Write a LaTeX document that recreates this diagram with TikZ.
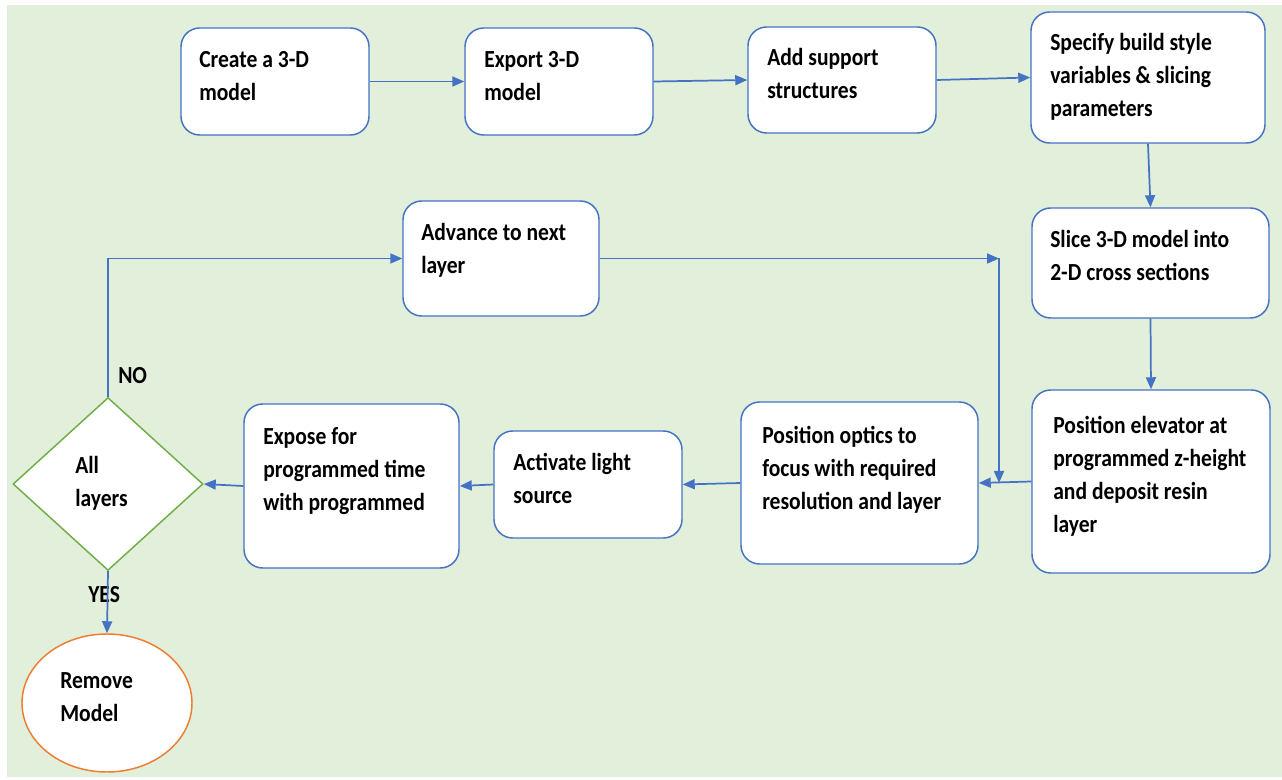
\documentclass[tikz,border=0pt]{standalone}
\usepackage{fontspec}
\setmainfont{Carlito}[FakeStretch=0.88]
\usetikzlibrary{shapes.geometric,arrows.meta,fit}
\definecolor{bg}{HTML}{E2EFDA}
\definecolor{bl}{HTML}{4472C4}
\definecolor{gr}{HTML}{70AD47}
\definecolor{og}{HTML}{ED7D31}
\newcommand{\fs}{\rule{0pt}{17pt}}
\begin{document}
\begin{tikzpicture}[x=0.75pt,y=-0.75pt,
  box/.style={draw=bl, line width=1.1pt, fill=white, rounded corners=14pt, inner sep=0pt},
  txt/.style={anchor=north west, inner sep=0pt, align=left, font=\bfseries\fontsize{18.4}{24.75}\selectfont},
  arr/.style={draw=bl, line width=1.3pt, -{Triangle[length=9pt,width=7.5pt]}}]
\useasboundingbox (0,0) rectangle (1282,780);
\fill[white] (0,0) rectangle (1282,780);
\fill[bg] (7,5) rectangle (1282,777);
% boxes
\node[box, fit={(181,28) (369,135)}] (b1) {};
\node[box, fit={(465,28) (653,135)}] (b2) {};
\node[box, fit={(748,27) (936,133)}] (b3) {};
\node[box, fit={(1031,12) (1265,143)}] (b4) {};
\node[box, fit={(1032,208) (1269,318)}] (b5) {};
\node[box, fit={(1032,390) (1270,573)}] (b6) {};
\node[box, fit={(741,402) (978,564)}] (b7) {};
\node[box, fit={(494,431) (682,538)}] (b8) {};
\node[box, fit={(244,404) (459,568)}] (b9) {};
\node[box, fit={(403,201) (599,316)}] (b10) {};
\node[draw=gr, line width=1.1pt, fill=white, diamond, inner sep=0pt, minimum width=142.5pt, minimum height=129.75pt] (dia) at (108,484) {};
\node[draw=og, line width=1.1pt, fill=white, ellipse, inner sep=0pt, minimum width=127.5pt, minimum height=103.5pt] (ell) at (107,703) {};
% texts
\node[txt] (t1) at (199,44.3) {\fs Create a 3-D\\model};
\node[txt] (t2) at (484,44.3) {\fs Export 3-D\\model};
\node[txt] (t3) at (767,42.3) {\fs Add support\\structures};
\node[txt] (t4) at (1050,27.3) {\fs Specify build style\\variables \& slicing\\parameters};
\node[txt] (t5) at (1050,224.3) {\fs Slice 3-D model into\\2-D cross sections};
\node[txt] (t6) at (1053,410.3) {\fs Position elevator at\\programmed z-height\\and deposit resin\\layer};
\node[txt] (t7) at (762,420.3) {\fs Position optics to\\focus with required\\resolution and layer};
\node[txt] (t8) at (513,447.3) {\fs Activate light\\source};
\node[txt] (t9) at (263,421.3) {\fs Expose for\\programmed time\\with programmed};
\node[txt] (t10) at (421,217.3) {\fs Advance to next\\layer};
\node[txt] (t11) at (75,450.3) {\fs All\\layers};
\node[txt] (t12) at (60,665.3) {\fs Remove\\Model};
\node[txt] (no) at (118,360.3) {\fs NO};
\node[txt] (yes) at (88,579.3) {\fs YES};
% connectors
\coordinate (j1) at (999,258.5);
\coordinate (j2) at (999,483);
\draw[arr] (b1.east) -- (b2.west);
\draw[arr] (b2.east) -- (b3.west);
\draw[arr] (b3.east) -- (b4.west);
\draw[arr] (b4.south) -- (b5.north);
\draw[arr] (b5.south) -- (b6.north);
\draw[arr] (b6.west) -- (b7.east);
\draw[arr] (b7.west) -- (b8.east);
\draw[arr] (b8.west) -- (b9.east);
\draw[arr] (b9.west) -- (dia.east);
\draw[arr] (dia.north) |- (b10.west);
\draw[arr] (b10.east) -- (j1);
\draw[arr] (j1) -- (j2);
\draw[arr] (dia.south) -- (ell.north);
\end{tikzpicture}
\end{document}
